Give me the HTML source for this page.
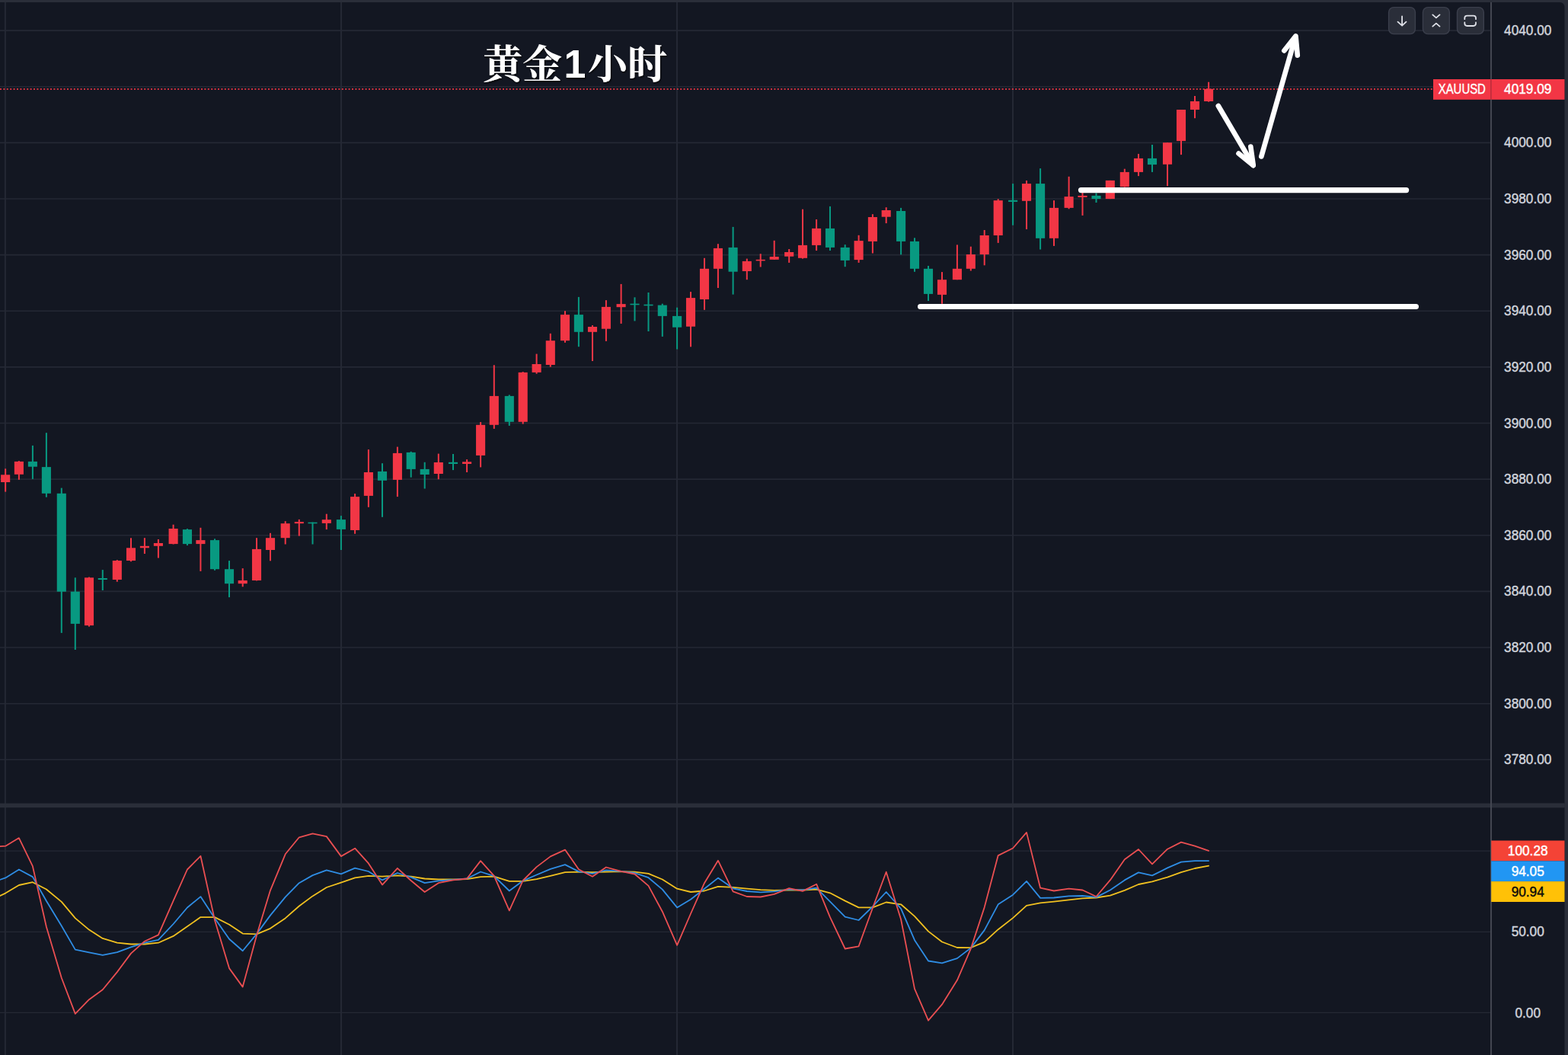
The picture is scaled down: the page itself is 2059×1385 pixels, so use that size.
<!DOCTYPE html>
<html><head><meta charset="utf-8"><title>chart</title>
<style>
html,body{margin:0;padding:0;background:#131722;}
body{width:2059px;height:1385px;overflow:hidden;font-family:"Liberation Sans",sans-serif;}
svg{display:block}
</style></head><body>
<svg width="2059" height="1385" viewBox="0 0 2059 1385">
<defs>
<filter id="ts" x="-5%" y="-10%" width="110%" height="130%"><feDropShadow dx="1" dy="1.5" stdDeviation="1.2" flood-color="#000" flood-opacity="0.9"/></filter>
</defs>
<rect width="2059" height="1385" fill="#2a2e39"/>
<path d="M0 3 H2048.5 a6 6 0 0 1 6 6 V1385 H0 Z" fill="#131722"/>
<g stroke="#242834" stroke-width="2"><line x1="6.9" x2="6.9" y1="3" y2="1385"/><line x1="448" x2="448" y1="3" y2="1385"/><line x1="889" x2="889" y1="3" y2="1385"/><line x1="1330" x2="1330" y1="3" y2="1385"/></g><g stroke="#242834" stroke-width="1.6"><line x1="0" x2="1957" y1="997.3" y2="997.3"/><line x1="0" x2="1957" y1="923.7" y2="923.7"/><line x1="0" x2="1957" y1="850.0" y2="850.0"/><line x1="0" x2="1957" y1="776.4" y2="776.4"/><line x1="0" x2="1957" y1="702.8" y2="702.8"/><line x1="0" x2="1957" y1="629.1" y2="629.1"/><line x1="0" x2="1957" y1="555.5" y2="555.5"/><line x1="0" x2="1957" y1="481.9" y2="481.9"/><line x1="0" x2="1957" y1="408.3" y2="408.3"/><line x1="0" x2="1957" y1="334.6" y2="334.6"/><line x1="0" x2="1957" y1="261.0" y2="261.0"/><line x1="0" x2="1957" y1="187.4" y2="187.4"/><line x1="0" x2="1957" y1="113.7" y2="113.7"/><line x1="0" x2="1957" y1="40.1" y2="40.1"/></g><g stroke="#242834" stroke-width="1.3"><line x1="0" x2="1957" y1="1117.2" y2="1117.2"/><line x1="0" x2="1957" y1="1223.4" y2="1223.4"/><line x1="0" x2="1957" y1="1329.4" y2="1329.4"/></g>
<!-- price dotted line -->
<line x1="0" x2="1882" y1="117" y2="117" stroke="#f23645" stroke-width="2" stroke-dasharray="2 2.4" opacity="0.85"/>
<!-- candles -->
<rect x="6.15" y="615.3" width="2.0" height="30.3" fill="#f23645"/>
<rect x="1.10" y="623.3" width="12.1" height="9.7" fill="#f23645"/>
<rect x="23.90" y="605.1" width="2.0" height="24.7" fill="#f23645"/>
<rect x="18.85" y="605.9" width="12.1" height="16.9" fill="#f23645"/>
<rect x="41.90" y="584.9" width="2.0" height="44.0" fill="#089981"/>
<rect x="36.85" y="605.9" width="12.1" height="6.8" fill="#089981"/>
<rect x="59.90" y="568.2" width="2.0" height="84.5" fill="#089981"/>
<rect x="54.85" y="613.1" width="12.1" height="34.7" fill="#089981"/>
<rect x="79.80" y="640.6" width="2.0" height="190.3" fill="#089981"/>
<rect x="74.75" y="647.8" width="12.1" height="128.9" fill="#089981"/>
<rect x="97.80" y="758.3" width="2.0" height="94.7" fill="#089981"/>
<rect x="92.75" y="776.7" width="12.1" height="42.2" fill="#089981"/>
<rect x="116.00" y="757.6" width="2.0" height="65.0" fill="#f23645"/>
<rect x="110.95" y="758.3" width="12.1" height="62.8" fill="#f23645"/>
<rect x="133.80" y="748.1" width="2.0" height="26.9" fill="#089981"/>
<rect x="128.75" y="759.0" width="12.1" height="2.0" fill="#089981"/>
<rect x="152.80" y="735.1" width="2.0" height="28.6" fill="#f23645"/>
<rect x="147.75" y="736.0" width="12.1" height="25.0" fill="#f23645"/>
<rect x="171.00" y="706.3" width="2.0" height="30.9" fill="#f23645"/>
<rect x="165.95" y="719.3" width="12.1" height="16.7" fill="#f23645"/>
<rect x="188.90" y="706.2" width="2.0" height="20.8" fill="#f23645"/>
<rect x="183.85" y="716.8" width="12.1" height="2.5" fill="#f23645"/>
<rect x="206.90" y="708.0" width="2.0" height="24.5" fill="#f23645"/>
<rect x="201.85" y="713.0" width="12.1" height="3.8" fill="#f23645"/>
<rect x="226.60" y="688.7" width="2.0" height="25.8" fill="#f23645"/>
<rect x="221.55" y="694.0" width="12.1" height="20.1" fill="#f23645"/>
<rect x="244.95" y="694.1" width="2.0" height="22.0" fill="#089981"/>
<rect x="239.90" y="695.1" width="12.1" height="19.0" fill="#089981"/>
<rect x="262.40" y="692.8" width="2.0" height="57.1" fill="#f23645"/>
<rect x="257.35" y="709.1" width="12.1" height="5.0" fill="#f23645"/>
<rect x="281.00" y="707.3" width="2.0" height="41.5" fill="#089981"/>
<rect x="275.95" y="709.1" width="12.1" height="38.1" fill="#089981"/>
<rect x="300.00" y="736.1" width="2.0" height="48.0" fill="#089981"/>
<rect x="294.95" y="747.2" width="12.1" height="19.0" fill="#089981"/>
<rect x="317.70" y="746.1" width="2.0" height="24.2" fill="#f23645"/>
<rect x="312.65" y="762.0" width="12.1" height="4.2" fill="#f23645"/>
<rect x="336.00" y="706.2" width="2.0" height="56.2" fill="#f23645"/>
<rect x="330.95" y="720.9" width="12.1" height="41.1" fill="#f23645"/>
<rect x="354.00" y="699.8" width="2.0" height="36.5" fill="#f23645"/>
<rect x="348.95" y="706.2" width="12.1" height="15.8" fill="#f23645"/>
<rect x="373.70" y="684.2" width="2.0" height="30.3" fill="#f23645"/>
<rect x="368.65" y="687.2" width="12.1" height="19.0" fill="#f23645"/>
<rect x="391.80" y="681.9" width="2.0" height="21.7" fill="#f23645"/>
<rect x="386.75" y="685.1" width="12.1" height="2.1" fill="#f23645"/>
<rect x="409.50" y="685.6" width="2.0" height="28.9" fill="#089981"/>
<rect x="404.45" y="685.7" width="12.1" height="1.6" fill="#089981"/>
<rect x="427.80" y="674.7" width="2.0" height="20.4" fill="#f23645"/>
<rect x="422.75" y="682.2" width="12.1" height="4.7" fill="#f23645"/>
<rect x="446.90" y="677.1" width="2.0" height="44.9" fill="#089981"/>
<rect x="441.85" y="682.1" width="12.1" height="12.8" fill="#089981"/>
<rect x="465.10" y="648.1" width="2.0" height="52.7" fill="#f23645"/>
<rect x="460.05" y="652.1" width="12.1" height="43.9" fill="#f23645"/>
<rect x="482.90" y="590.1" width="2.0" height="75.7" fill="#f23645"/>
<rect x="477.85" y="620.0" width="12.1" height="30.9" fill="#f23645"/>
<rect x="501.00" y="608.2" width="2.0" height="70.6" fill="#089981"/>
<rect x="495.95" y="618.9" width="12.1" height="11.9" fill="#089981"/>
<rect x="520.90" y="586.6" width="2.0" height="65.5" fill="#f23645"/>
<rect x="515.85" y="594.9" width="12.1" height="35.0" fill="#f23645"/>
<rect x="538.70" y="592.8" width="2.0" height="33.9" fill="#089981"/>
<rect x="533.65" y="593.9" width="12.1" height="22.0" fill="#089981"/>
<rect x="556.70" y="606.8" width="2.0" height="34.7" fill="#089981"/>
<rect x="551.65" y="615.9" width="12.1" height="7.1" fill="#089981"/>
<rect x="574.80" y="595.6" width="2.0" height="33.6" fill="#f23645"/>
<rect x="569.75" y="607.0" width="12.1" height="15.0" fill="#f23645"/>
<rect x="594.00" y="596.0" width="2.0" height="21.1" fill="#089981"/>
<rect x="588.95" y="606.8" width="12.1" height="2.2" fill="#089981"/>
<rect x="612.10" y="603.1" width="2.0" height="16.9" fill="#f23645"/>
<rect x="607.05" y="606.3" width="12.1" height="2.7" fill="#f23645"/>
<rect x="630.10" y="554.1" width="2.0" height="59.3" fill="#f23645"/>
<rect x="625.05" y="557.8" width="12.1" height="40.1" fill="#f23645"/>
<rect x="647.80" y="479.3" width="2.0" height="83.6" fill="#f23645"/>
<rect x="642.75" y="519.9" width="12.1" height="37.9" fill="#f23645"/>
<rect x="667.80" y="518.4" width="2.0" height="40.5" fill="#089981"/>
<rect x="662.75" y="519.9" width="12.1" height="33.9" fill="#089981"/>
<rect x="685.70" y="488.1" width="2.0" height="68.5" fill="#f23645"/>
<rect x="680.65" y="488.9" width="12.1" height="64.9" fill="#f23645"/>
<rect x="703.60" y="464.6" width="2.0" height="26.1" fill="#f23645"/>
<rect x="698.55" y="478.0" width="12.1" height="10.9" fill="#f23645"/>
<rect x="721.80" y="437.8" width="2.0" height="43.9" fill="#f23645"/>
<rect x="716.75" y="447.2" width="12.1" height="31.8" fill="#f23645"/>
<rect x="741.00" y="408.2" width="2.0" height="41.6" fill="#f23645"/>
<rect x="735.95" y="413.1" width="12.1" height="34.1" fill="#f23645"/>
<rect x="758.90" y="389.9" width="2.0" height="65.3" fill="#089981"/>
<rect x="753.85" y="413.1" width="12.1" height="22.7" fill="#089981"/>
<rect x="777.00" y="427.0" width="2.0" height="47.0" fill="#f23645"/>
<rect x="771.95" y="429.0" width="12.1" height="6.8" fill="#f23645"/>
<rect x="794.90" y="394.1" width="2.0" height="53.8" fill="#f23645"/>
<rect x="789.85" y="402.9" width="12.1" height="28.8" fill="#f23645"/>
<rect x="814.60" y="372.9" width="2.0" height="52.0" fill="#f23645"/>
<rect x="809.55" y="399.1" width="12.1" height="4.1" fill="#f23645"/>
<rect x="832.50" y="390.3" width="2.0" height="31.1" fill="#089981"/>
<rect x="827.45" y="398.7" width="12.1" height="1.6" fill="#089981"/>
<rect x="850.50" y="384.0" width="2.0" height="51.0" fill="#089981"/>
<rect x="845.45" y="399.7" width="12.1" height="1.6" fill="#089981"/>
<rect x="868.80" y="398.7" width="2.0" height="43.2" fill="#089981"/>
<rect x="863.75" y="400.6" width="12.1" height="14.3" fill="#089981"/>
<rect x="888.10" y="403.7" width="2.0" height="54.8" fill="#089981"/>
<rect x="883.05" y="414.9" width="12.1" height="14.8" fill="#089981"/>
<rect x="906.00" y="383.1" width="2.0" height="72.2" fill="#f23645"/>
<rect x="900.95" y="391.1" width="12.1" height="37.6" fill="#f23645"/>
<rect x="924.00" y="338.8" width="2.0" height="68.0" fill="#f23645"/>
<rect x="918.95" y="352.8" width="12.1" height="40.2" fill="#f23645"/>
<rect x="941.90" y="320.2" width="2.0" height="57.8" fill="#f23645"/>
<rect x="936.85" y="325.9" width="12.1" height="26.9" fill="#f23645"/>
<rect x="961.60" y="297.9" width="2.0" height="88.7" fill="#089981"/>
<rect x="956.55" y="324.9" width="12.1" height="31.8" fill="#089981"/>
<rect x="979.80" y="339.6" width="2.0" height="27.6" fill="#f23645"/>
<rect x="974.75" y="342.9" width="12.1" height="13.1" fill="#f23645"/>
<rect x="997.70" y="333.2" width="2.0" height="17.3" fill="#f23645"/>
<rect x="992.65" y="340.8" width="12.1" height="1.6" fill="#f23645"/>
<rect x="1015.70" y="315.8" width="2.0" height="25.0" fill="#f23645"/>
<rect x="1010.65" y="337.0" width="12.1" height="3.8" fill="#f23645"/>
<rect x="1035.20" y="327.0" width="2.0" height="17.9" fill="#f23645"/>
<rect x="1030.15" y="331.0" width="12.1" height="5.7" fill="#f23645"/>
<rect x="1053.00" y="274.7" width="2.0" height="64.9" fill="#f23645"/>
<rect x="1047.95" y="321.9" width="12.1" height="16.9" fill="#f23645"/>
<rect x="1071.10" y="288.0" width="2.0" height="41.0" fill="#f23645"/>
<rect x="1066.05" y="299.9" width="12.1" height="22.0" fill="#f23645"/>
<rect x="1089.00" y="270.9" width="2.0" height="58.1" fill="#089981"/>
<rect x="1083.95" y="299.9" width="12.1" height="25.0" fill="#089981"/>
<rect x="1108.70" y="321.1" width="2.0" height="29.1" fill="#089981"/>
<rect x="1103.65" y="324.9" width="12.1" height="17.0" fill="#089981"/>
<rect x="1126.60" y="308.8" width="2.0" height="36.1" fill="#f23645"/>
<rect x="1121.55" y="316.1" width="12.1" height="25.0" fill="#f23645"/>
<rect x="1144.90" y="281.2" width="2.0" height="51.3" fill="#f23645"/>
<rect x="1139.85" y="285.0" width="12.1" height="31.9" fill="#f23645"/>
<rect x="1162.70" y="272.2" width="2.0" height="20.9" fill="#f23645"/>
<rect x="1157.65" y="276.0" width="12.1" height="8.7" fill="#f23645"/>
<rect x="1182.10" y="272.9" width="2.0" height="61.4" fill="#089981"/>
<rect x="1177.05" y="277.0" width="12.1" height="39.9" fill="#089981"/>
<rect x="1200.00" y="312.3" width="2.0" height="44.5" fill="#089981"/>
<rect x="1194.95" y="316.9" width="12.1" height="35.9" fill="#089981"/>
<rect x="1218.00" y="349.0" width="2.0" height="46.0" fill="#089981"/>
<rect x="1212.95" y="352.8" width="12.1" height="33.1" fill="#089981"/>
<rect x="1236.00" y="357.1" width="2.0" height="41.7" fill="#f23645"/>
<rect x="1230.95" y="367.2" width="12.1" height="19.7" fill="#f23645"/>
<rect x="1255.90" y="321.4" width="2.0" height="45.8" fill="#f23645"/>
<rect x="1250.85" y="352.8" width="12.1" height="14.4" fill="#f23645"/>
<rect x="1273.80" y="323.7" width="2.0" height="31.8" fill="#f23645"/>
<rect x="1268.75" y="334.0" width="12.1" height="18.8" fill="#f23645"/>
<rect x="1291.70" y="302.0" width="2.0" height="46.3" fill="#f23645"/>
<rect x="1286.65" y="309.0" width="12.1" height="25.0" fill="#f23645"/>
<rect x="1309.70" y="261.2" width="2.0" height="57.7" fill="#f23645"/>
<rect x="1304.65" y="263.1" width="12.1" height="45.9" fill="#f23645"/>
<rect x="1329.10" y="241.1" width="2.0" height="54.6" fill="#089981"/>
<rect x="1324.05" y="262.8" width="12.1" height="2.1" fill="#089981"/>
<rect x="1347.00" y="237.0" width="2.0" height="64.0" fill="#f23645"/>
<rect x="1341.95" y="241.1" width="12.1" height="22.7" fill="#f23645"/>
<rect x="1365.10" y="221.1" width="2.0" height="106.4" fill="#089981"/>
<rect x="1360.05" y="241.1" width="12.1" height="71.7" fill="#089981"/>
<rect x="1383.00" y="263.1" width="2.0" height="59.8" fill="#f23645"/>
<rect x="1377.95" y="272.9" width="12.1" height="39.9" fill="#f23645"/>
<rect x="1402.60" y="231.8" width="2.0" height="42.5" fill="#f23645"/>
<rect x="1397.55" y="258.1" width="12.1" height="14.8" fill="#f23645"/>
<rect x="1420.50" y="248.0" width="2.0" height="34.9" fill="#f23645"/>
<rect x="1415.45" y="256.9" width="12.1" height="2.1" fill="#f23645"/>
<rect x="1438.50" y="253.4" width="2.0" height="12.6" fill="#089981"/>
<rect x="1433.45" y="256.9" width="12.1" height="4.2" fill="#089981"/>
<rect x="1456.80" y="236.9" width="2.0" height="24.2" fill="#f23645"/>
<rect x="1451.75" y="236.9" width="12.1" height="24.2" fill="#f23645"/>
<rect x="1475.80" y="221.7" width="2.0" height="23.9" fill="#f23645"/>
<rect x="1470.75" y="225.9" width="12.1" height="19.3" fill="#f23645"/>
<rect x="1494.00" y="202.0" width="2.0" height="29.1" fill="#f23645"/>
<rect x="1488.95" y="207.9" width="12.1" height="18.0" fill="#f23645"/>
<rect x="1512.00" y="190.0" width="2.0" height="35.9" fill="#089981"/>
<rect x="1506.95" y="207.9" width="12.1" height="8.2" fill="#089981"/>
<rect x="1532.00" y="187.2" width="2.0" height="57.0" fill="#f23645"/>
<rect x="1526.95" y="187.2" width="12.1" height="28.6" fill="#f23645"/>
<rect x="1550.00" y="144.0" width="2.0" height="59.1" fill="#f23645"/>
<rect x="1544.95" y="144.0" width="12.1" height="41.1" fill="#f23645"/>
<rect x="1568.00" y="126.0" width="2.0" height="29.2" fill="#f23645"/>
<rect x="1562.95" y="133.0" width="12.1" height="11.0" fill="#f23645"/>
<rect x="1586.10" y="107.7" width="2.0" height="26.0" fill="#f23645"/>
<rect x="1581.05" y="116.8" width="12.1" height="16.2" fill="#f23645"/>
<!-- white drawings -->
<g stroke="#ffffff" stroke-linecap="round" stroke-linejoin="round" fill="none">
<line x1="1419.5" x2="1846.6" y1="249.6" y2="249.6" stroke-width="7.2"/>
<line x1="1208.6" x2="1859.4" y1="402.5" y2="402.5" stroke-width="7.2"/>
<g stroke-width="6.6">
<path d="M1599.8 139 L1645.6 216.8"/>
<path d="M1626.5 201.5 L1645.8 217.2 L1642.3 192.5"/>
<path d="M1645.8 217.2 L1635.2 208.6 L1643.9 203.6 Z" fill="#fff" stroke-width="2"/>
<path d="M1656.3 205.5 L1700.8 49.5"/>
<path d="M1686.3 66.5 L1701.5 47.4 L1703.8 72.6"/>
<path d="M1701.5 47.4 L1692.4 58.9 L1702.9 62.5 Z" fill="#fff" stroke-width="2"/>
</g>
</g>
<!-- pane separator -->
<rect x="0" y="1054.6" width="2054.5" height="5.6" fill="#2a2e39"/>
<!-- KDJ -->
<polyline points="-11.2,1181.4 7.2,1172.6 24.9,1162.0 42.9,1158.2 60.9,1167.5 80.8,1183.9 98.8,1205.4 117.0,1220.6 134.8,1231.9 153.8,1237.7 172.0,1239.5 189.9,1239.5 207.9,1237.7 227.6,1228.9 245.9,1216.3 263.4,1204.1 282.0,1204.1 301.0,1213.7 318.7,1225.6 337.0,1226.4 355.0,1218.8 374.7,1205.4 392.8,1189.5 410.5,1176.4 428.8,1165.0 447.9,1158.7 466.1,1152.4 483.9,1149.8 502.0,1150.7 521.9,1149.4 539.7,1150.7 557.7,1153.5 575.8,1154.5 595.0,1154.5 613.1,1154.1 631.1,1151.1 648.8,1150.7 668.8,1156.9 686.7,1156.9 704.6,1154.1 722.8,1149.8 742.0,1145.1 759.9,1144.7 778.0,1145.1 795.9,1144.5 815.6,1144.1 833.5,1144.7 851.5,1146.9 869.8,1154.5 889.1,1166.7 907.0,1171.0 925.0,1169.5 942.9,1163.8 962.6,1164.8 980.8,1166.7 998.7,1168.2 1016.7,1168.9 1036.2,1168.5 1054.0,1168.5 1072.1,1167.6 1090.0,1172.3 1109.7,1182.6 1127.6,1191.4 1145.9,1191.4 1163.7,1184.5 1183.1,1187.3 1201.0,1202.9 1219.0,1222.6 1237.0,1236.5 1256.9,1244.0 1274.8,1244.2 1292.7,1236.7 1310.7,1220.2 1330.1,1205.1 1348.0,1188.8 1366.1,1185.4 1384.0,1183.6 1403.6,1181.3 1421.5,1179.4 1439.5,1178.5 1457.8,1175.7 1476.8,1168.9 1495.0,1161.0 1513.0,1157.3 1533.0,1151.6 1551.0,1145.1 1569.0,1140.0 1587.1,1136.6" fill="none" stroke="#f0c020" stroke-width="1.8" stroke-linejoin="round" stroke-linecap="round"/>
<polyline points="-11.2,1158.7 7.2,1152.4 24.9,1141.5 42.9,1151.1 60.9,1182.7 80.8,1215.5 98.8,1246.6 117.0,1250.4 134.8,1253.9 153.8,1250.1 172.0,1243.3 189.9,1237.7 207.9,1233.9 227.6,1213.0 245.9,1191.5 263.4,1177.1 282.0,1205.4 301.0,1232.7 318.7,1248.3 337.0,1226.1 355.0,1201.6 374.7,1177.6 392.8,1159.2 410.5,1149.1 428.8,1142.3 447.9,1147.3 466.1,1139.7 483.9,1144.0 502.0,1155.4 521.9,1146.0 539.7,1151.6 557.7,1159.2 575.8,1156.3 595.0,1155.0 613.1,1153.5 631.1,1144.5 648.8,1150.1 668.8,1169.5 686.7,1156.3 704.6,1148.5 722.8,1140.9 742.0,1135.1 759.9,1144.1 778.0,1146.9 795.9,1142.3 815.6,1143.8 833.5,1146.0 851.5,1152.2 869.8,1167.6 889.1,1191.4 907.0,1180.7 925.0,1166.7 942.9,1152.6 962.6,1166.3 980.8,1170.0 998.7,1171.4 1016.7,1170.4 1036.2,1167.6 1054.0,1168.5 1072.1,1165.7 1090.0,1183.6 1109.7,1203.6 1127.6,1208.0 1145.9,1190.1 1163.7,1171.0 1183.1,1192.9 1201.0,1234.2 1219.0,1261.5 1237.0,1264.3 1256.9,1258.1 1274.8,1244.6 1292.7,1221.1 1310.7,1187.3 1330.1,1174.7 1348.0,1156.9 1366.1,1178.9 1384.0,1178.5 1403.6,1176.4 1421.5,1176.0 1439.5,1177.9 1457.8,1168.5 1476.8,1155.4 1495.0,1145.4 1513.0,1149.4 1533.0,1139.4 1551.0,1131.6 1569.0,1130.1 1587.1,1130.1" fill="none" stroke="#2f8de4" stroke-width="1.8" stroke-linejoin="round" stroke-linecap="round"/>
<polyline points="-11.2,1111.7 7.2,1110.7 24.9,1100.1 42.9,1137.2 60.9,1216.8 80.8,1283.7 98.8,1330.9 117.0,1312.2 134.8,1299.3 153.8,1276.1 172.0,1251.6 189.9,1235.7 207.9,1227.4 227.6,1182.7 245.9,1141.5 263.4,1123.8 282.0,1207.9 301.0,1271.1 318.7,1295.6 337.0,1228.1 355.0,1168.8 374.7,1121.3 392.8,1099.3 410.5,1094.3 428.8,1098.1 447.9,1124.1 466.1,1113.7 483.9,1133.4 502.0,1161.6 521.9,1139.8 539.7,1156.0 557.7,1171.0 575.8,1159.2 595.0,1155.4 613.1,1153.5 631.1,1130.1 648.8,1149.8 668.8,1195.4 686.7,1156.0 704.6,1138.1 722.8,1124.4 742.0,1115.6 759.9,1141.3 778.0,1150.7 795.9,1138.5 815.6,1143.8 833.5,1147.5 851.5,1162.9 869.8,1196.7 889.1,1240.8 907.0,1199.5 925.0,1159.2 942.9,1129.7 962.6,1170.4 980.8,1177.0 998.7,1177.5 1016.7,1173.8 1036.2,1166.1 1054.0,1169.9 1072.1,1160.7 1090.0,1204.2 1109.7,1245.5 1127.6,1242.3 1145.9,1192.0 1163.7,1144.7 1183.1,1207.0 1201.0,1298.1 1219.0,1339.7 1237.0,1318.7 1256.9,1286.8 1274.8,1245.5 1292.7,1191.1 1310.7,1123.1 1330.1,1113.5 1348.0,1092.9 1366.1,1165.7 1384.0,1169.5 1403.6,1166.7 1421.5,1168.5 1439.5,1177.0 1457.8,1155.4 1476.8,1128.2 1495.0,1115.0 1513.0,1134.4 1533.0,1114.7 1551.0,1105.6 1569.0,1110.7 1587.1,1116.9" fill="none" stroke="#ea4f52" stroke-width="1.8" stroke-linejoin="round" stroke-linecap="round"/>
<!-- axis -->
<rect x="1957" y="3" width="2" height="1382" fill="#434651"/>
<rect x="1959" y="1054.6" width="95.5" height="5.6" fill="#2a2e39"/>
<g transform="translate(2006.2 0) scale(0.98 1)" fill="#d1d4dc" stroke="#d1d4dc" stroke-width="0.42" font-size="17.6" text-anchor="middle" font-family="Liberation Sans, sans-serif"><text x="0" y="46.10">4040.00</text><text x="0" y="193.36">4000.00</text><text x="0" y="266.99">3980.00</text><text x="0" y="340.62">3960.00</text><text x="0" y="414.25">3940.00</text><text x="0" y="487.88">3920.00</text><text x="0" y="561.51">3900.00</text><text x="0" y="635.14">3880.00</text><text x="0" y="708.77">3860.00</text><text x="0" y="782.40">3840.00</text><text x="0" y="856.03">3820.00</text><text x="0" y="929.66">3800.00</text><text x="0" y="1003.29">3780.00</text><text x="0" y="1229.20">50.00</text><text x="0" y="1336.00">0.00</text></g>
<!-- price labels -->
<rect x="1882" y="104" width="172.5" height="26.8" fill="#f23645"/>
<rect x="1957.2" y="104" width="1.4" height="26.8" fill="#131722" opacity="0.28"/>
<g transform="translate(1919.8 0) scale(0.999 1)"><text x="0" y="122.80" fill="#fff" stroke="#fff" stroke-width="0.42" font-size="17.6" text-anchor="middle" font-family="Liberation Sans, sans-serif" textLength="62.2" lengthAdjust="spacingAndGlyphs">XAUUSD</text></g>
<rect x="1958.2" y="1103.5" width="96.3" height="26.8" fill="#f44336"/>
<rect x="1958.2" y="1130.3" width="96.3" height="26.8" fill="#2196f3"/>
<rect x="1958.2" y="1157.1" width="96.3" height="26.9" fill="#ffc107"/>
<g transform="translate(2006.2 0) scale(0.98 1)" stroke-width="0.42" font-size="17.6" text-anchor="middle" font-family="Liberation Sans, sans-serif"><text x="0" y="123.50" fill="#ffffff" stroke="#ffffff">4019.09</text><text x="0" y="1122.80" fill="#ffffff" stroke="#ffffff">100.28</text><text x="0" y="1149.70" fill="#ffffff" stroke="#ffffff">94.05</text><text x="0" y="1176.60" fill="#0b0b0b" stroke="#0b0b0b">90.94</text></g>

<!-- buttons -->
<g fill="#2a2e39" stroke="#3b3f4c" stroke-width="1.4">
<rect x="1823.6" y="9.6" width="34.8" height="35" rx="6.5"/>
<rect x="1868.5" y="9.6" width="34.8" height="35" rx="6.5"/>
<rect x="1913.5" y="9.6" width="34.8" height="35" rx="6.5"/>
</g>
<g fill="none" stroke="#dfe1e8" stroke-width="1.8" stroke-linecap="round" stroke-linejoin="round">
<path d="M1841.1 21.3 V33.4 M1835.5 28.6 L1841.1 33.7 L1846.5 28.6"/>
<path d="M1881.3 19.4 L1885.9 23.4 L1890.5 19.4 M1881.3 34.6 L1885.9 30.6 L1890.5 34.6"/>
<path d="M1923.3 25.2 V23.8 a3.2 3.2 0 0 1 3.2 -3.2 H1934.8 a3.2 3.2 0 0 1 3.2 3.2 V25.2 M1923.3 29.4 V30.8 a3.2 3.2 0 0 0 3.2 3.2 H1934.8 a3.2 3.2 0 0 0 3.2 -3.2 V29.4"/>
</g>
<!-- title -->
<g fill="#ffffff" filter="url(#ts)" font-weight="bold">
<text x="634" y="103" font-size="52" text-anchor="start" font-family="Liberation Serif, Noto Serif CJK SC, serif">黄金</text>
<text x="740.5" y="102.2" font-size="52" text-anchor="start" font-family="Liberation Sans, sans-serif">1</text>
<text x="772" y="103" font-size="52" text-anchor="start" font-family="Liberation Serif, Noto Serif CJK SC, serif">小时</text>
</g>
</svg>
</body></html>
